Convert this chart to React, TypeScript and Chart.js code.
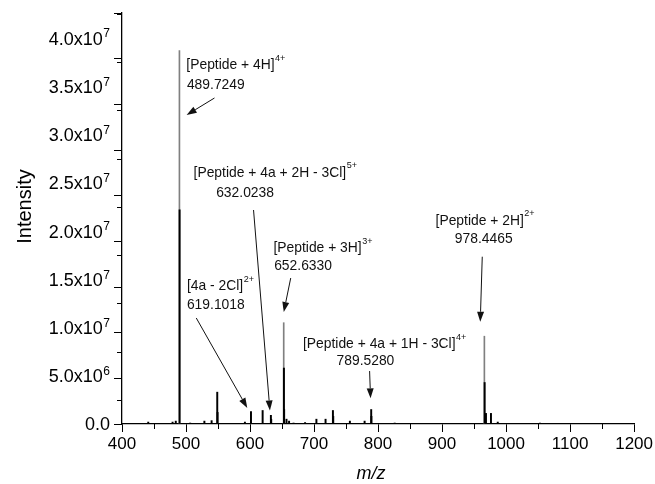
import React, { useEffect, useRef } from "react";
import { Chart, registerables } from "chart.js";

Chart.register(...registerables);

const FONT = '"Liberation Sans", Arial, Helvetica, sans-serif';

// ---- data ----
const mzMin = 400;
const mzMax = 1200;
const intensityMax = 4.26e7;

// tall monoisotopic peaks (drawn as thin grey sticks)
const mainPeakMz = [489.72, 652.63, 966.1];
const mainPeakIntensity = [3.87e7, 1.05e7, 0.91e7];

// other peaks / isotopes
const peakMz = [441, 479, 484, 489.97, 506.5, 528.7, 540, 548.8, 549.3, 592, 601.5, 619.7, 632.6, 633.1, 652.95, 653.3, 657, 661, 668, 686, 703.7, 718, 729.5, 730.0, 756, 779, 789.3, 789.6, 826, 966.5, 968.6, 976.4, 987, 1030, 1053];
const peakIntensity = [2e5, 2e5, 3e5, 2.22e7, 1e5, 3e5, 3.5e5, 3.3e6, 1.2e6, 2e5, 1.3e6, 1.4e6, 9e5, 5e5, 5.8e6, 1.5e6, 5e5, 3e5, 1e5, 1.5e5, 5e5, 5e5, 1.4e6, 8e5, 3e5, 3e5, 1.5e6, 8e5, 1e5, 4.3e6, 1.1e6, 1.1e6, 2e5, 5e4, 1e5];

const yTickValues = [0, 5e6, 1e7, 1.5e7, 2e7, 2.5e7, 3e7, 3.5e7, 4e7];
const yTickMantissa = ["0.0", "5.0x10", "1.0x10", "1.5x10", "2.0x10", "2.5x10", "3.0x10", "3.5x10", "4.0x10"];
const yTickExponent = ["", "6", "7", "7", "7", "7", "7", "7", "7"];

const xTitle = "m/z";
const yTitle = "Intensity";

// annotations
const ionLabels = ["[Peptide + 4H]", "[Peptide + 4a + 2H - 3Cl]", "[Peptide + 3H]", "[4a - 2Cl]", "[Peptide + 4a + 1H - 3Cl]", "[Peptide + 2H]"];
const ionCharges = ["4+", "5+", "3+", "2+", "4+", "2+"];
const ionMzText = ["489.7249", "632.0238", "652.6330", "619.1018", "789.5280", "978.4465"];

// annotation layout in data space: [labelMz, labelI, valueMz, valueI, fromMz, fromI, toMz, toI]
const ionLayout = [
  [500.5, 3.721e7, 501.4, 3.514e7, 544.5, 3.379e7, 501.0, 3.203e7],
  [511.8, 2.605e7, 547.1, 2.397e7, 605.5, 2.218e7, 631.1, 0.140e7],
  [636.6, 1.821e7, 637.7, 1.638e7, 663.6, 1.513e7, 652.7, 1.161e7],
  [501.4, 1.430e7, 501.4, 1.233e7, 516.0, 1.099e7, 595.7, 0.166e7],
  [682.7, 0.829e7, 735.1, 0.653e7, 786.8, 0.549e7, 788.3, 0.266e7],
  [889.8, 2.107e7, 919.9, 1.914e7, 962.8, 1.734e7, 959.7, 1.060e7],
];

function drawScaledText(ctx: CanvasRenderingContext2D, text: string, x: number, y: number, size: number, sx: number, italic = false) {
  ctx.save();
  ctx.font = `${italic ? "italic " : ""}${size}px ${FONT}`;
  ctx.translate(x, y);
  ctx.scale(sx, 1);
  ctx.fillText(text, 0, 0);
  const w = ctx.measureText(text).width * sx;
  ctx.restore();
  return w;
}

const overlayPlugin = {
  id: "overlay",
  afterDraw(chart: any) {
    const ctx: CanvasRenderingContext2D = chart.ctx;
    const xs = chart.scales.x;
    const ys = chart.scales.y;
    const area = chart.chartArea;
    ctx.save();
    ctx.strokeStyle = "#000";
    ctx.lineWidth = 1;
    // minor ticks
    ctx.beginPath();
    for (let v = mzMin + 50; v < mzMax; v += 100) {
      const px = Math.round(xs.getPixelForValue(v)) + 0.5;
      ctx.moveTo(px, area.bottom);
      ctx.lineTo(px, area.bottom + 5);
    }
    for (let v = 2.5e6; v <= intensityMax; v += 5e6) {
      const py = Math.round(ys.getPixelForValue(v)) + 0.5;
      ctx.moveTo(area.left - 5, py);
      ctx.lineTo(area.left, py);
    }
    ctx.stroke();

    // y tick labels with superscript exponent
    ctx.fillStyle = "#000";
    ctx.textBaseline = "alphabetic";
    const baseSize = 18;
    const supSize = 12;
    const rightEdge = area.left - 12;
    yTickValues.forEach((v, i) => {
      const py = ys.getPixelForValue(v);
      ctx.font = `${baseSize}px ${FONT}`;
      const wb = ctx.measureText(yTickMantissa[i]).width;
      ctx.font = `${supSize}px ${FONT}`;
      const ws = yTickExponent[i] ? ctx.measureText(yTickExponent[i]).width + 0.5 : 0;
      const x0 = rightEdge - wb - ws;
      const base = py + baseSize * 0.36;
      ctx.font = `${baseSize}px ${FONT}`;
      ctx.fillText(yTickMantissa[i], x0, base);
      if (yTickExponent[i]) {
        ctx.font = `${supSize}px ${FONT}`;
        ctx.fillText(yTickExponent[i], x0 + wb + 0.5, base - baseSize * 0.4);
      }
    });

    // axis titles
    ctx.textBaseline = "middle";
    ctx.textAlign = "center";
    ctx.save();
    ctx.translate(area.left - 97, (area.top + area.bottom) / 2 - 12);
    ctx.rotate(-Math.PI / 2);
    ctx.font = `20px ${FONT}`;
    ctx.fillText(yTitle, 0, 0);
    ctx.restore();
    ctx.font = `italic 18px ${FONT}`;
    ctx.fillText(xTitle, (area.left + area.right) / 2 - 7, area.bottom + 50);
    ctx.textAlign = "left";

    // annotations
    ctx.fillStyle = "#111";
    ctx.strokeStyle = "#111";
    ionLabels.forEach((lab, i) => {
      const L = ionLayout[i];
      const lx = xs.getPixelForValue(L[0]);
      const ly = ys.getPixelForValue(L[1]);
      const w = drawScaledText(ctx, lab, lx, ly, 14.6, 0.95);
      drawScaledText(ctx, ionCharges[i], lx + w + 0.5, ly - 7, 9.5, 0.95);
      drawScaledText(ctx, ionMzText[i], xs.getPixelForValue(L[2]), ys.getPixelForValue(L[3]), 14.6, 0.95);
      const x1 = xs.getPixelForValue(L[4]);
      const y1 = ys.getPixelForValue(L[5]);
      const x2 = xs.getPixelForValue(L[6]);
      const y2 = ys.getPixelForValue(L[7]);
      const ang = Math.atan2(y2 - y1, x2 - x1);
      const hl = 10;
      const hw = 3.5;
      const bx = x2 - hl * Math.cos(ang);
      const by = y2 - hl * Math.sin(ang);
      ctx.lineWidth = 1;
      ctx.beginPath();
      ctx.moveTo(x1, y1);
      ctx.lineTo(bx, by);
      ctx.stroke();
      ctx.beginPath();
      ctx.moveTo(x2, y2);
      ctx.lineTo(bx + hw * Math.sin(ang), by - hw * Math.cos(ang));
      ctx.lineTo(bx - hw * Math.sin(ang), by + hw * Math.cos(ang));
      ctx.closePath();
      ctx.fill();
    });
    ctx.restore();
  },
};

export default function App() {
  const ref = useRef<HTMLCanvasElement>(null);
  useEffect(() => {
    document.body.style.margin = "0";
    const axisGrid = {
      display: true,
      drawOnChartArea: false,
      drawTicks: true,
      tickLength: 8,
      color: "#000",
      lineWidth: 1,
      offset: false,
    };
    const chart = new Chart(ref.current as HTMLCanvasElement, {
      type: "bar",
      data: {
        datasets: [
          {
            data: peakMz.map((m, i) => ({ x: m, y: peakIntensity[i] })),
            backgroundColor: "#000",
            borderWidth: 0,
            barThickness: 1.3,
            grouped: false,
          } as any,
          {
            data: mainPeakMz.map((m, i) => ({ x: m, y: mainPeakIntensity[i] })),
            backgroundColor: "#808080",
            borderWidth: 0,
            barThickness: 1,
            grouped: false,
          } as any,
        ],
      },
      options: {
        responsive: false,
        animation: false,
        devicePixelRatio: 1,
        layout: { padding: { left: 0, right: 18, top: 13, bottom: 0 } },
        plugins: { legend: { display: false }, tooltip: { enabled: false } },
        scales: {
          x: {
            type: "linear",
            min: mzMin,
            max: mzMax,
            offset: false,
            ticks: {
              stepSize: 100,
              autoSkip: false,
              maxRotation: 0,
              padding: 2,
              color: "#000",
              font: { family: FONT, size: 17 },
              callback: (v: any) => String(v),
            },
            grid: axisGrid,
            border: { display: true, color: "#000", width: 1.3 },
            afterFit: (s: any) => {
              s.height = 60;
            },
          },
          y: {
            type: "linear",
            min: 0,
            max: intensityMax,
            ticks: { stepSize: 5e6, display: false, includeBounds: false } as any,
            grid: axisGrid,
            border: { display: true, color: "#000", width: 1.3 },
            afterFit: (s: any) => {
              s.width = 122;
            },
          },
        },
      } as any,
      plugins: [overlayPlugin],
    });
    return () => chart.destroy();
  }, []);
  return (
    <div style={{ width: 655, height: 484 }}>
      <canvas ref={ref} width={655} height={484} style={{ display: "block" }} />
    </div>
  );
}
